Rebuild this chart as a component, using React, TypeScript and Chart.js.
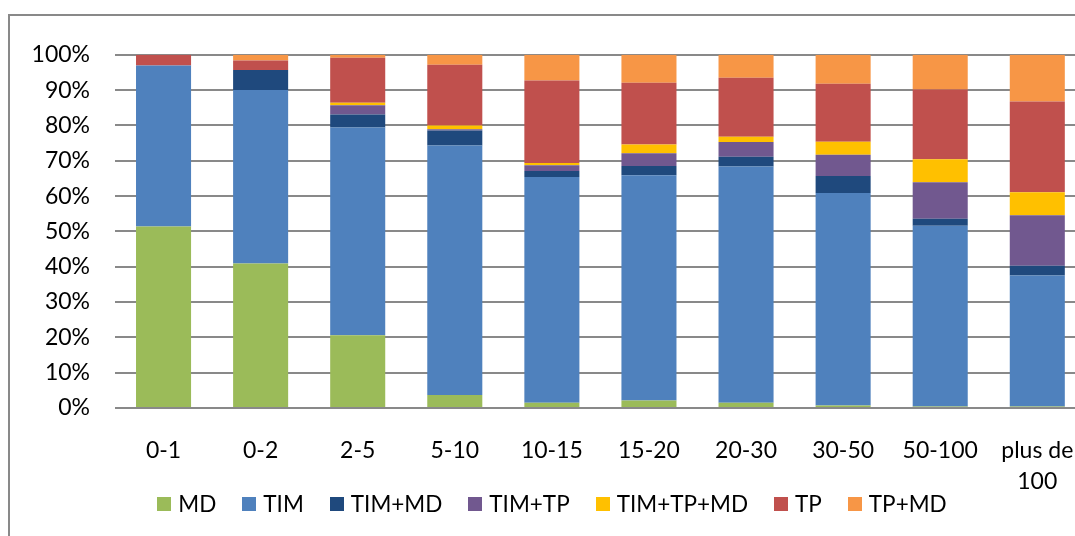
import React, { useEffect, useRef } from "react";
import { Chart, registerables } from "chart.js";

Chart.register(...registerables);

const categories: (string | string[])[] = ["0-1", "0-2", "2-5", "5-10", "10-15", "15-20", "20-30", "30-50", "50-100", ["plus de", "100"]];

const MD = [51.4, 40.9, 20.6, 3.7, 1.5, 2.1, 1.5, 0.7, 0.4, 0.4];
const TIM = [45.6, 49.1, 58.8, 70.6, 63.9, 63.8, 66.9, 60.2, 51.2, 37.1];
const TIM_MD = [0, 5.7, 3.7, 4.3, 1.7, 2.6, 2.7, 4.8, 2.0, 2.8];
const TIM_TP = [0, 0, 2.6, 0.3, 1.6, 3.6, 4.2, 6.0, 10.3, 14.3];
const TIM_TP_MD = [0, 0, 0.7, 1.1, 0.7, 2.5, 1.5, 3.7, 6.5, 6.5];
const TP = [3.0, 2.7, 12.8, 17.2, 23.3, 17.5, 16.7, 16.4, 19.8, 25.7];
const TP_MD = [0, 1.6, 0.8, 2.8, 7.3, 7.9, 6.5, 8.2, 9.8, 13.2];

const seriesNames = ["MD", "TIM", "TIM+MD", "TIM+TP", "TIM+TP+MD", "TP", "TP+MD"];
const seriesColors = ["#9BBB59", "#4F81BD", "#1F497D", "#71588F", "#FFC000", "#C0504D", "#F79646"];
const yTicks = [0, 10, 20, 30, 40, 50, 60, 70, 80, 90, 100];

const FONT = "Lato, 'Open Sans', sans-serif";

// Legend drawn below the axis labels (Excel-style, overlapping the label band)
const legendPlugin = {
  id: "excelLegend",
  afterDraw(chart: any) {
    const ctx = chart.ctx;
    const box = 14;
    const gapBoxText = 7;
    const gapItems = 26;
    const cy = 488;
    const centerX = 541;
    ctx.save();
    ctx.font = `22.5px ${FONT}`;
    const items = chart.data.datasets.map((ds: any) => ({
      label: ds.label,
      color: ds.backgroundColor,
      w: box + gapBoxText + ctx.measureText(ds.label).width,
    }));
    const total = items.reduce((a: number, it: any) => a + it.w, 0) + gapItems * (items.length - 1);
    let x = centerX - total / 2;
    ctx.textBaseline = "middle";
    ctx.textAlign = "left";
    for (const it of items) {
      ctx.fillStyle = it.color;
      ctx.fillRect(Math.round(x), Math.round(cy - box / 2), box, box);
      ctx.fillStyle = "#000";
      ctx.fillText(it.label, x + box + gapBoxText, cy + 1);
      x += it.w + gapItems;
    }
    ctx.restore();
  },
};

export default function App() {
  const ref = useRef<HTMLCanvasElement | null>(null);
  useEffect(() => {
    if (!ref.current) return;
    const seriesData = [MD, TIM, TIM_MD, TIM_TP, TIM_TP_MD, TP, TP_MD];
    const chart = new Chart(ref.current, {
      type: "bar",
      data: {
        labels: categories,
        datasets: seriesNames.map((name, i) => ({
          label: name,
          data: seriesData[i],
          backgroundColor: seriesColors[i],
          borderWidth: 0,
          barPercentage: 0.567,
          categoryPercentage: 1.0,
        })),
      },
      plugins: [legendPlugin],
      options: {
        responsive: false,
        animation: false,
        devicePixelRatio: 1,
        layout: { padding: { left: 8, right: 14, top: 33, bottom: 36 } },
        plugins: {
          tooltip: { enabled: false },
          legend: { display: false },
        },
        scales: {
          x: {
            stacked: true,
            afterFit: (s: any) => {
              s.height = 92;
            },
            grid: { display: false, drawTicks: false },
            border: { display: false },
            ticks: {
              color: "#000",
              font: { family: FONT, size: 23, lineHeight: 1.35 },
              padding: 27,
              maxRotation: 0,
              autoSkip: false,
            },
          },
          y: {
            stacked: true,
            min: 0,
            max: 100,
            afterFit: (s: any) => {
              s.width = 96;
            },
            afterBuildTicks: (s: any) => {
              s.ticks = yTicks.map((v) => ({ value: v }));
            },
            grid: { color: "#898989", lineWidth: 2, drawTicks: false },
            border: { display: false },
            ticks: {
              color: "#000",
              padding: 25,
              autoSkip: false,
              font: { family: FONT, size: 23 },
              callback: (v: any) => v + "%",
            },
          },
        },
      },
    });
    return () => chart.destroy();
  }, []);

  return (
    <div style={{ position: "fixed", left: 0, top: 0, width: 1075, height: 536, overflow: "hidden", background: "#fff" }}>
      <div style={{ position: "absolute", left: 8, top: 14, width: 1300, height: 800, border: "2px solid #898989" }} />
      <div style={{ position: "absolute", left: 11, top: 16, width: 1090, height: 520 }}>
        <canvas ref={ref} width={1090} height={520} />
      </div>
    </div>
  );
}
